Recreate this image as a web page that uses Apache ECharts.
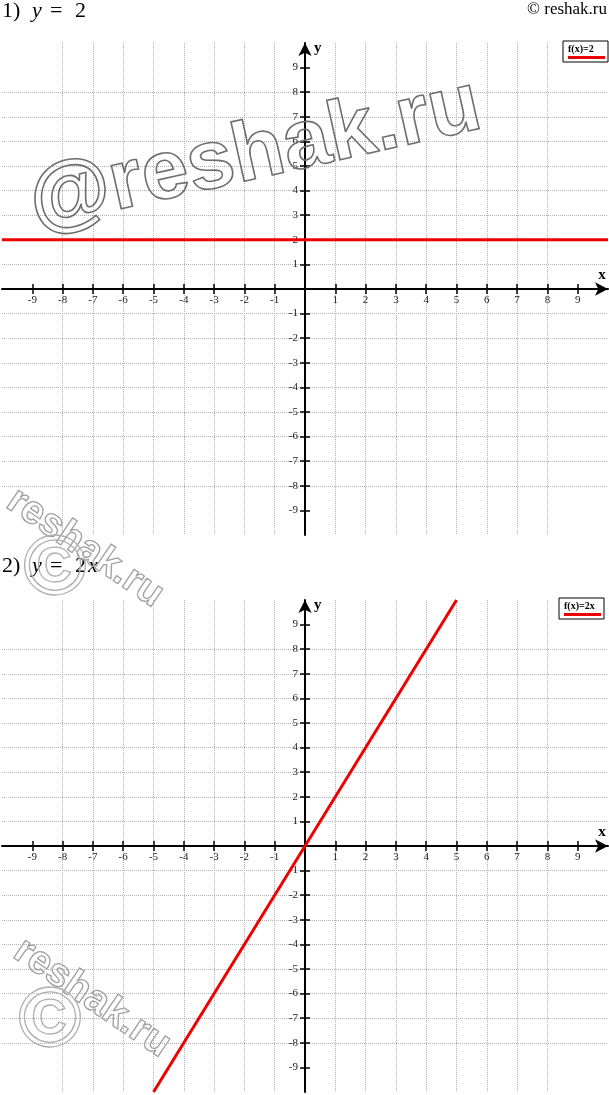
<!DOCTYPE html>
<html><head><meta charset="utf-8">
<script src="https://cdn.jsdelivr.net/npm/echarts@6/dist/echarts.min.js"></script>
<style>html,body{margin:0;padding:0;background:#fff}#c{width:609px;height:1095px}</style>
</head><body><div id="c"></div>
<script>
// ---- data ----
const axisRange = [-10, 10];
const tickValues = [-9, -8, -7, -6, -5, -4, -3, -2, -1, 1, 2, 3, 4, 5, 6, 7, 8, 9];
const line1X = [-10, 10];
const line1Y = [2, 2];
const line2X = [-5, 5];
const line2Y = [-10, 10];
const legendNames = ['f(x)=2', 'f(x)=2x'];
const titleParts1 = ['1)', 'y', '=', '2'];
const titleParts2 = ['2)', 'y', '=', '2', 'x'];
const copyrightText = '© reshak.ru';

// ---- chart ----
const serif = '"Liberation Serif", "DejaVu Serif", serif';
const gridW = 606, gridH = 492;
const gridTops = [43, 600];
const grids = gridTops.map(t => ({left: 2, top: t, width: gridW, height: gridH, outerBoundsMode: 'none', containLabel: false}));
const offX = -gridH / 2, offY = -gridW / 2;

function mainX(g) {
  return {
    gridIndex: g, type: 'value', min: axisRange[0], max: axisRange[1], interval: 1, position: 'bottom', offset: offX,
    name: 'x', nameLocation: 'end', nameGap: -6,
    nameTextStyle: {fontFamily: serif, fontWeight: 'bold', fontSize: 15, color: '#000', align: 'center', verticalAlign: 'bottom', padding: [0, 0, 6, 0]},
    axisLine: {onZero: false, symbol: ['none', 'arrow'], symbolSize: [10, 13], lineStyle: {color: '#000', width: 2}},
    axisTick: {customValues: tickValues, length: 5, lineStyle: {color: '#000', width: 1.5}},
    axisLabel: {customValues: tickValues, margin: 6, fontFamily: serif, fontSize: 11, color: '#222'},
    splitLine: {show: true, showMinLine: false, showMaxLine: false, lineStyle: {color: '#b0b0b0', width: 1, type: [1, 1]}}
  };
}
function secX(g) {
  return {
    gridIndex: g, type: 'value', min: axisRange[0], max: axisRange[1], interval: 1, position: 'top', offset: offX,
    axisLine: {show: false, onZero: false},
    axisTick: {customValues: tickValues, length: 5, lineStyle: {color: '#000', width: 1.5}},
    axisLabel: {show: false}, splitLine: {show: false}
  };
}
function mainY(g) {
  return {
    gridIndex: g, type: 'value', min: axisRange[0], max: axisRange[1], interval: 1, position: 'left', offset: offY,
    name: 'y', nameLocation: 'end', nameGap: -13,
    nameTextStyle: {fontFamily: serif, fontWeight: 'bold', fontSize: 15, color: '#000', align: 'left', verticalAlign: 'bottom', padding: [0, 0, 0, 9]},
    axisLine: {onZero: false, symbol: ['none', 'arrow'], symbolSize: [10, 13], lineStyle: {color: '#000', width: 2}},
    axisTick: {customValues: tickValues, length: 5, lineStyle: {color: '#000', width: 1.5}},
    axisLabel: {customValues: tickValues, margin: 7, fontFamily: serif, fontSize: 11, color: '#222'},
    splitLine: {show: true, showMinLine: false, showMaxLine: false, lineStyle: {color: '#b0b0b0', width: 1, type: [1, 1]}}
  };
}
function secY(g) {
  return {
    gridIndex: g, type: 'value', min: axisRange[0], max: axisRange[1], interval: 1, position: 'right', offset: offY,
    axisLine: {show: false, onZero: false},
    axisTick: {customValues: tickValues, length: 5, lineStyle: {color: '#000', width: 1.5}},
    axisLabel: {show: false}, splitLine: {show: false}
  };
}

const zip = (xs, ys) => xs.map((x, i) => [x, ys[i]]);
const lineSeries = (name, g, xs, ys) => ({
  name, type: 'line', xAxisIndex: 2 * g, yAxisIndex: 2 * g, data: zip(xs, ys),
  showSymbol: false, symbol: 'none', silent: true, animation: false, z: 3,
  lineStyle: {color: '#ee0000', width: 3}, itemStyle: {color: '#ee0000'}
});

const legendRich = {
  t: {fontFamily: serif, fontSize: 10, fontWeight: 'bold', color: '#000', lineHeight: 12},
  u: {width: 37, height: 3, lineHeight: 5, backgroundColor: '#ee0000', fontSize: 1}
};
const makeLegend = (name, top, right) => ({
  data: [name], top, right, orient: 'vertical', icon: 'rect', itemWidth: 0, itemHeight: 0,
  backgroundColor: '#fff', borderColor: '#000', borderWidth: 1, padding: [3, 3, 3, 0],
  selectedMode: false, formatter: n => '{t|' + n + '}\n{u| }', textStyle: {rich: legendRich}
});

const base = {fontFamily: serif, fontSize: 22, color: '#000', fontWeight: 'normal'};
const titleRich = {
  a: Object.assign({}, base, {width: 30}),
  v: Object.assign({}, base, {fontStyle: 'italic', width: 18}),
  e: Object.assign({}, base, {width: 25}),
  d: Object.assign({}, base, {width: 13}),
  x: Object.assign({}, base, {fontStyle: 'italic'})
};
const t1 = '{a|' + titleParts1[0] + '}{v|' + titleParts1[1] + '}{e|' + titleParts1[2] + '}{d|' + titleParts1[3] + '}';
const t2 = '{a|' + titleParts2[0] + '}{v|' + titleParts2[1] + '}{e|' + titleParts2[2] + '}{d|' + titleParts2[3] + '}{x|' + titleParts2[4] + '}';

const wm = (text, x, y, rot, size, color, lw) => ({
  type: 'text', x, y, rotation: rot, silent: true, z: 100,
  style: {text, x: 0, y: 0, font: 'bold ' + size + 'px "Liberation Sans", Arial, sans-serif',
    fill: 'rgba(0,0,0,0)', stroke: color, lineWidth: lw, align: 'center', verticalAlign: 'middle'}
});

const option = {
  animation: false,
  title: [
    {text: t1, left: 2, top: 0, padding: 0, textStyle: {fontWeight: 'normal', rich: titleRich}},
    {text: t2, left: 2, top: 555, padding: 0, textStyle: {fontWeight: 'normal', rich: titleRich}},
    {text: copyrightText, right: 2, top: 1, padding: 0, textStyle: {fontFamily: serif, fontSize: 17, fontWeight: 'normal', color: '#000'}}
  ],
  legend: [makeLegend(legendNames[0], 41, 1), makeLegend(legendNames[1], 598, 5)],
  grid: grids,
  xAxis: [mainX(0), secX(0), mainX(1), secX(1)],
  yAxis: [mainY(0), secY(0), mainY(1), secY(1)],
  series: [
    lineSeries(legendNames[0], 0, line1X, line1Y),
    lineSeries(legendNames[1], 1, line2X, line2Y)
  ],
  graphic: [
    wm('@reshak.ru', 255, 155, 0.22, 84, '#6e6e6e', 1.6),
    wm('reshak.ru', 85, 548, -0.6, 40, '#a0a0a0', 1.3),
    wm('©', 55, 570, 0, 86, '#b0b0b0', 1.3),
    wm('reshak.ru', 92, 998, -0.6, 40, '#a0a0a0', 1.3),
    wm('©', 50, 1022, 0, 86, '#b0b0b0', 1.3)
  ]
};
const chart = echarts.init(document.getElementById('c'), null, {renderer: 'canvas'});
chart.setOption(option);
</script></body></html>
